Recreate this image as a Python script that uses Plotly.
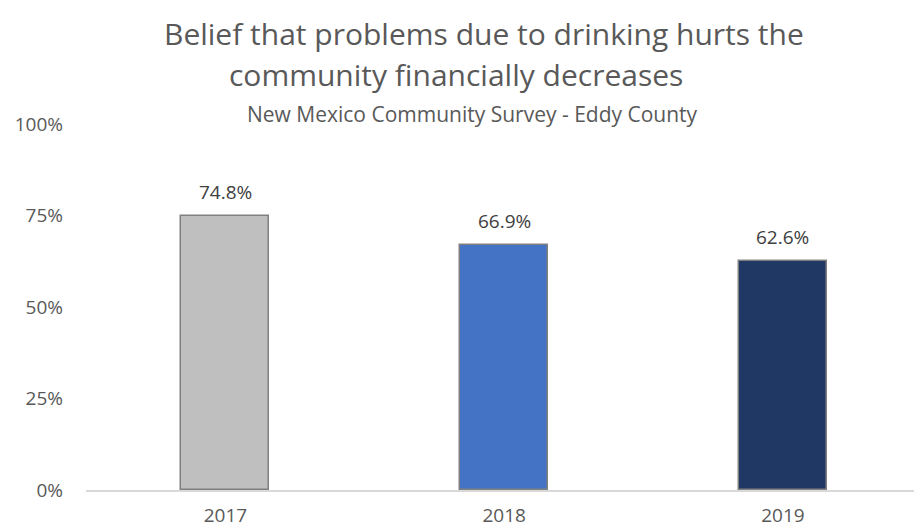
import plotly.graph_objects as go

years = ["2017", "2018", "2019"]
values = [74.8, 66.9, 62.6]
bar_colors = ["#BFBFBF", "#4472C4", "#203864"]
y_ticks = [0, 25, 50, 75, 100]
y_tick_labels = ["0%", "25%", "50%", "75%", "100%"]

title_line1 = "Belief that problems due to drinking hurts the"
title_line2 = "community financially decreases"
subtitle = "New Mexico Community Survey - Eddy County"

FONT = "Open Sans"
TEXT = "#595959"

W, H = 914, 529
L, R, T, B = 85.5, 0, 124, 39
plot_h = H - T - B
plot_w = W - L - R


def py(pixel_y):
    return (H - B - pixel_y) / plot_h


def px(pixel_x):
    return (pixel_x - L) / plot_w


fig = go.Figure()
fig.add_trace(go.Bar(
    x=years,
    y=values,
    width=0.315,
    marker=dict(color=bar_colors, line=dict(color="#808080", width=1.5)),
    hoverinfo="skip",
))

# value labels above each bar (category index positions)
for i, v in enumerate(values):
    fig.add_annotation(
        x=i, y=v, xref="x", yref="y",
        text=f"{v:.1f}%", showarrow=False,
        xanchor="center", yanchor="bottom", yshift=9,
        font=dict(family=FONT, size=19, color="#404040"),
    )

fig.add_annotation(x=px(484), y=py(33), xref="paper", yref="paper",
                   text=title_line1, showarrow=False, xanchor="center", yanchor="middle",
                   font=dict(family=FONT, size=30, color=TEXT))
fig.add_annotation(x=px(456), y=py(75), xref="paper", yref="paper",
                   text=title_line2, showarrow=False, xanchor="center", yanchor="middle",
                   font=dict(family=FONT, size=30, color=TEXT))
fig.add_annotation(x=px(472), y=py(114), xref="paper", yref="paper",
                   text=subtitle, showarrow=False, xanchor="center", yanchor="middle",
                   font=dict(family=FONT, size=21, color=TEXT))

fig.update_layout(
    width=W, height=H,
    margin=dict(l=L, r=R, t=T, b=B, pad=0, autoexpand=False),
    paper_bgcolor="white", plot_bgcolor="white",
    showlegend=False,
    bargap=0,
)
fig.update_xaxes(
    type="category", range=[-0.5, 2.47], automargin=False,
    showgrid=False, zeroline=False,
    showline=True, linecolor="#D9D9D9", linewidth=1.5,
    ticks="", ticklabelstandoff=7,
    tickfont=dict(family=FONT, size=19, color=TEXT),
)
fig.update_yaxes(
    range=[0, 100], tickvals=y_ticks, ticktext=y_tick_labels, automargin=False,
    showgrid=False, zeroline=False, showline=False,
    ticks="", ticklabelstandoff=22,
    tickfont=dict(family=FONT, size=19, color=TEXT),
)

fig.write_html("out.html")
